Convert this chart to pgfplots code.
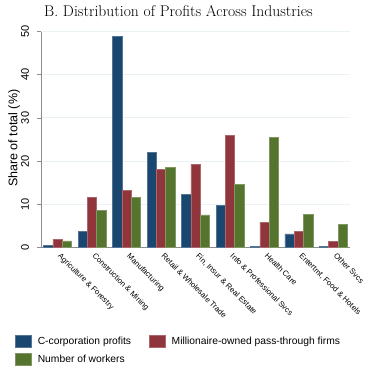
\documentclass[border=0pt]{standalone}
\usepackage{fontspec}
\setsansfont{Liberation Sans}
\usepackage{pgfplots}
\pgfplotsset{compat=1.18}
\definecolor{cnavy}{RGB}{26,71,111}
\definecolor{cmaroon}{RGB}{144,53,59}
\definecolor{cgreen}{RGB}{85,117,47}
\definecolor{cgrid}{RGB}{234,242,243}
\definecolor{caxis}{RGB}{140,140,140}
\pgfplotsset{mylegend/.style={legend image code/.code={\draw[##1] (0pt,-6pt) rectangle (16pt,6pt);}}}
\begin{document}
\begin{tikzpicture}
\path[use as bounding box] (-41pt,-124.7pt) rectangle (329pt,247.3pt);
\node[font=\fontsize{15.6}{18}\selectfont] at (137.5pt,236pt) {B. Distribution of Profits Across Industries};
\begin{axis}[
  at={(0,0)}, anchor=south west,
  scale only axis, width=309pt, height=215.6pt,
  xmin=-0.48, xmax=8.48, ymin=0, ymax=50,
  ybar=0pt, bar width=0.27,
  axis x line*=bottom, axis y line*=left,
  axis line style={draw=caxis, line width=0.9pt, -},
  ytick={0,10,20,30,40,50},
  ymajorgrids, grid style={draw=cgrid, line width=0.9pt},
  ytick style={draw=caxis, line width=0.8pt},
  tick align=outside, major tick length=3.5pt,
  xtick={0,1,2,3,4,5,6,7,8},
  xtick style={draw=none},
  xticklabels={Agriculture \& Forestry, Construction \& Mining, Manufacturing, Retail \& Wholesale Trade, {Fin, Insur \& Real Estate}, Info \& Professional Svcs, Health Care, {Entertmt, Food \& Hotels}, Other Svcs},
  xticklabel style={xshift=4pt, rotate=-45, anchor=north west, inner sep=1pt, font=\sffamily\fontsize{7.8}{9}\selectfont},
  yticklabel style={xshift=-5pt, rotate=90, anchor=south, font=\sffamily\fontsize{11}{12}\selectfont},
  /pgf/number format/assume math mode=true,
  ylabel={Share of total (\%)},
  ylabel style={at={(axis description cs:-0.087,0.506)}, anchor=center, font=\sffamily\fontsize{12.5}{14}\selectfont},
  legend columns=2,
  legend cell align=left,
  legend style={draw=none, at={(axis description cs:-0.0841,-0.4068)}, anchor=north west, inner sep=0pt, row sep=5pt,
    font=\sffamily\fontsize{10.3}{12}\selectfont,
    /tikz/every odd column/.append style={column sep=4pt},
    /tikz/every even column/.append style={column sep=16pt}},
]
\addplot[fill=cnavy, draw=cnavy!75!white, line width=0.6pt, mylegend] coordinates {(0,0.45) (1,3.7) (2,49.0) (3,22.0) (4,12.3) (5,9.65) (6,0.3) (7,3.1) (8,0.3)};
\addplot[fill=cmaroon, draw=cmaroon!75!white, line width=0.6pt, mylegend] coordinates {(0,1.85) (1,11.6) (2,13.2) (3,18.1) (4,19.3) (5,26.0) (6,5.8) (7,3.7) (8,1.3)};
\addplot[fill=cgreen, draw=cgreen!75!white, line width=0.6pt, mylegend] coordinates {(0,1.5) (1,8.65) (2,11.6) (3,18.6) (4,7.5) (5,14.6) (6,25.4) (7,7.7) (8,5.3)};
\legend{C-corporation profits, Millionaire-owned pass-through firms, Number of workers}
\end{axis}
\end{tikzpicture}
\end{document}
